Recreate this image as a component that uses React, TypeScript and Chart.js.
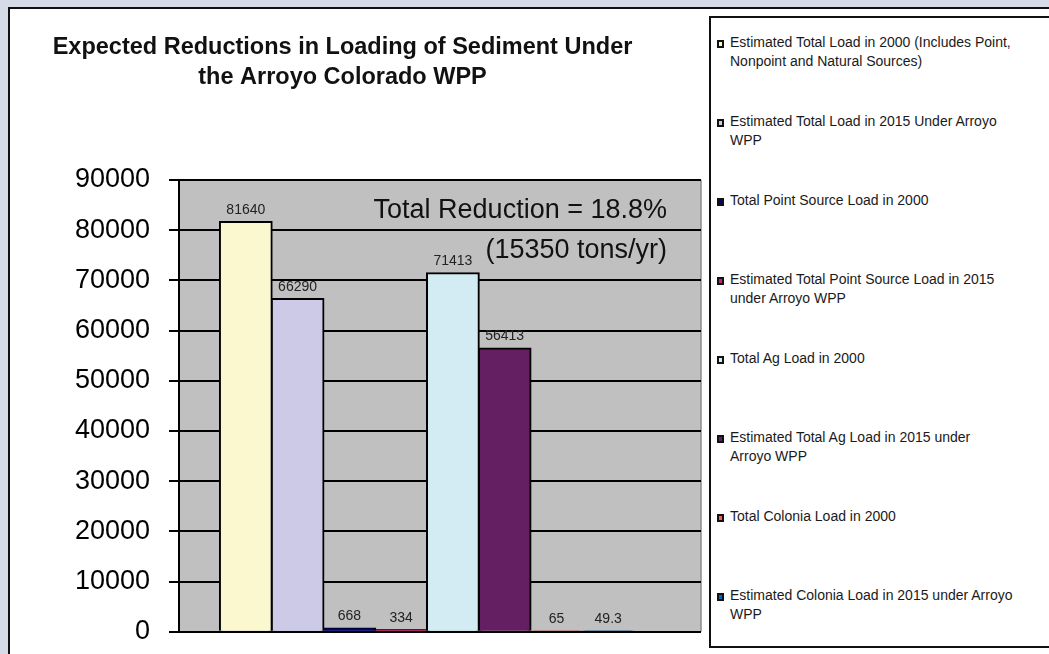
import React, { useEffect, useRef } from 'react';
import { Chart, registerables } from 'chart.js';
Chart.register(...registerables);

const FONT = "'Liberation Sans', Arial, sans-serif";

const categories = [''];
const seriesNames = [
  'Estimated Total Load in 2000 (Includes Point,\nNonpoint and Natural Sources)',
  'Estimated Total Load in 2015 Under Arroyo\nWPP',
  'Total Point Source Load in 2000',
  'Estimated Total Point Source Load in 2015\nunder Arroyo WPP',
  'Total Ag Load in 2000',
  'Estimated Total Ag Load in 2015 under\nArroyo WPP',
  'Total Colonia Load in 2000',
  'Estimated Colonia Load in 2015 under Arroyo\nWPP',
];
const seriesValues = [81640, 66290, 668, 334, 71413, 56413, 65, 49.3];
const seriesColors = [
  '#fbf8d0',
  '#cdcae7',
  '#000080',
  '#cc1f7a',
  '#d3ecf3',
  '#641f63',
  '#f06060',
  '#0066cc',
];
const yMin = 0;
const yMax = 90000;
const yStep = 10000;
const titleLines = ['Expected Reductions in Loading of Sediment Under', 'the Arroyo Colorado WPP'];
const noteLines = ['Total Reduction = 18.8%', '(15350 tons/yr)'];

const EXT = 26;

const plotBg = {
  id: 'plotBg',
  beforeDraw(chart: any) {
    const { ctx, chartArea } = chart;
    const { left, top, right, bottom } = chartArea;
    ctx.save();
    ctx.fillStyle = '#c0c0c0';
    ctx.fillRect(left, top, right + EXT - left, bottom - top);
    ctx.strokeStyle = '#8c8c8c';
    ctx.lineWidth = 1.5;
    ctx.beginPath();
    ctx.moveTo(right + EXT, top);
    ctx.lineTo(right + EXT, bottom);
    ctx.stroke();
    ctx.restore();
  },
  beforeDatasetsDraw(chart: any) {
    const { ctx, chartArea } = chart;
    const y = chart.scales.y;
    ctx.save();
    ctx.strokeStyle = '#000';
    ctx.lineWidth = 2;
    y.ticks.forEach((t: any) => {
      const py = Math.round(y.getPixelForValue(t.value));
      ctx.beginPath();
      ctx.moveTo(chartArea.right - 1, py);
      ctx.lineTo(chartArea.right + EXT, py);
      ctx.stroke();
    });
    ctx.restore();
  },
  afterDatasetsDraw(chart: any) {
    const { ctx, chartArea } = chart;
    const y = chart.scales.y;
    const py = Math.round(y.getPixelForValue(0));
    ctx.save();
    ctx.strokeStyle = '#000';
    ctx.lineWidth = 2;
    ctx.beginPath();
    ctx.moveTo(chartArea.left - 10, py);
    ctx.lineTo(chartArea.right + EXT, py);
    ctx.stroke();
    ctx.restore();
  },
};

const valueLabels = {
  id: 'valueLabels',
  afterDatasetsDraw(chart: any) {
    const { ctx } = chart;
    ctx.save();
    ctx.font = `14px ${FONT}`;
    ctx.fillStyle = '#222';
    ctx.textAlign = 'center';
    ctx.textBaseline = 'bottom';
    chart.data.datasets.forEach((ds: any, i: number) => {
      const el = chart.getDatasetMeta(i).data[0];
      if (!el) return;
      ctx.fillText(String(ds.data[0]), el.x, el.y - 5);
    });
    ctx.restore();
  },
};

const note = {
  id: 'note',
  afterDraw(chart: any) {
    const { ctx, chartArea } = chart;
    ctx.save();
    ctx.font = `27px ${FONT}`;
    ctx.fillStyle = '#111';
    ctx.textAlign = 'right';
    ctx.textBaseline = 'alphabetic';
    ctx.fillText(noteLines[0], chartArea.right - 8, chartArea.top + 38);
    ctx.fillText(noteLines[1], chartArea.right - 8, chartArea.top + 78);
    ctx.restore();
  },
};

const CANVAS_H = 657;

function ChartCanvas() {
  const ref = useRef<HTMLCanvasElement | null>(null);
  useEffect(() => {
    if (!ref.current) return;
    const chart = new Chart(ref.current, {
      type: 'bar',
      data: {
        labels: categories,
        datasets: seriesValues.map((v, i) => ({
          label: seriesNames[i],
          data: [v],
          backgroundColor: seriesColors[i],
          borderColor: '#000',
          borderWidth: 2,
          inflateAmount: 1,
          categoryPercentage: 0.835,
          barPercentage: 1,
        })),
      },
      options: {
        responsive: false,
        animation: false,
        layout: { padding: { left: 0, right: 30, top: 0, bottom: 0 } },
        plugins: {
          legend: { display: false },
          tooltip: { enabled: false },
          title: {
            display: true,
            text: titleLines,
            color: '#111',
            font: { family: FONT, size: 23.5, weight: 'bold', lineHeight: 30 / 23.5 },
            padding: { top: 23, bottom: 87 },
          },
        },
        scales: {
          x: { display: false },
          y: {
            min: yMin,
            max: yMax,
            ticks: {
              stepSize: yStep,
              color: '#000',
              font: { family: FONT, size: 27 },
              padding: 19,
              callback: (v: any) => String(v),
            },
            grid: { color: '#000', lineWidth: 2, tickLength: 10, drawTicks: true },
            border: { color: '#000', width: 2 },
            afterFit(s: any) {
              s.width = 169;
            },
          },
        },
      } as any,
      plugins: [plotBg, valueLabels, note],
    });
    return () => chart.destroy();
  }, []);
  return (
    <canvas
      ref={ref}
      width={695}
      height={CANVAS_H}
      style={{ position: 'absolute', left: 0, top: 1, width: 695, height: CANVAS_H }}
    />
  );
}

export default function App() {
  return (
    <div style={{ position: 'fixed', left: 0, top: 0, width: 1049, height: 654, background: '#d5dce8', overflow: 'hidden' }}>
      <div
        style={{
          position: 'absolute',
          left: 8,
          top: 7,
          width: 1100,
          height: 700,
          background: '#fff',
          borderTop: '2px solid #111',
          borderLeft: '2px solid #111',
        }}
      >
        <ChartCanvas />
        <div
          style={{
            position: 'absolute',
            left: 699,
            top: 7,
            width: 400,
            height: 632,
            border: '2px solid #111',
            boxSizing: 'border-box',
            background: '#fff',
          }}
        >
          {seriesNames.map((name, i) => (
            <div key={i} style={{ position: 'absolute', left: 0, top: 14.5 + 79 * i, width: 380 }}>
              <div
                style={{
                  position: 'absolute',
                  left: 6,
                  top: 7.5,
                  width: 7,
                  height: 8,
                  boxSizing: 'border-box',
                  border: '2px solid #111',
                  background: seriesColors[i],
                }}
              />
              <div
                style={{
                  position: 'absolute',
                  left: 19,
                  top: 0,
                  font: `14px ${FONT}`,
                  lineHeight: '19px',
                  color: '#1a1a1a',
                  whiteSpace: 'pre-line',
                }}
              >
                {name}
              </div>
            </div>
          ))}
        </div>
      </div>
    </div>
  );
}
